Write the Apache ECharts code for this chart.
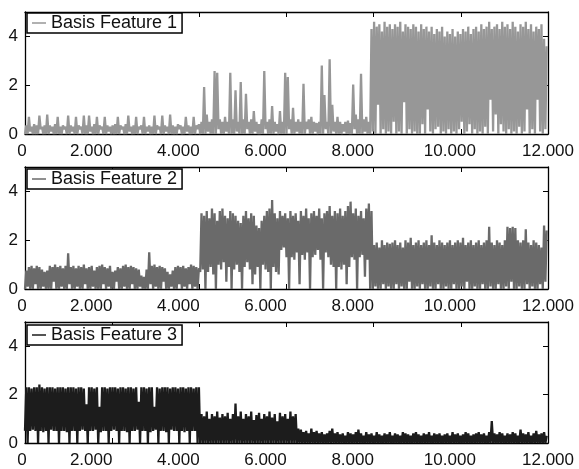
<!DOCTYPE html>
<html>
<head>
<meta charset="utf-8">
<script src="https://cdn.jsdelivr.net/npm/echarts@6/dist/echarts.min.js"></script>
<style>
  html, body { margin: 0; padding: 0; background: #fff; }
  #chart { width: 579px; height: 469px; }
</style>
</head>
<body>
<div id="chart"></div>
<script>
// each value = envelope of the signal in one 60-sample bin (lo = lowest, hi = highest)
var binSize = 60;
var xTickLabels = ['0', '2.000', '4.000', '6.000', '8.000', '10.000', '12.000'];
var seriesNames = ['Basis Feature 1', 'Basis Feature 2', 'Basis Feature 3'];

var f1Hi = [
  0.35,0.7,0.3,0.4,0.35,0.75,0.3,0.35,0.8,0.35,0.3,0.4,0.7,0.3,0.35,0.3,0.75,0.35,0.3,0.7,
  0.35,0.3,0.75,0.35,0.75,0.3,0.4,0.7,0.35,0.3,0.7,0.35,0.3,0.35,0.4,0.7,0.35,0.3,0.4,0.75,
  0.3,0.35,0.7,0.3,0.35,0.7,0.3,0.35,0.3,0.75,0.35,0.3,0.75,0.35,0.3,0.8,0.35,0.3,0.4,0.35,
  0.3,0.7,0.35,0.3,0.7,0.35,0.4,0.5,1.93,0.8,0.5,0.6,2.58,2.51,0.6,0.5,0.7,0.5,2.51,0.6,
  1.79,0.5,2.13,0.6,1.65,0.5,0.6,0.94,0.5,0.4,0.6,2.58,0.5,0.6,1.15,0.5,0.4,0.94,0.5,2.51,
  2.34,0.6,1.07,0.5,0.6,0.5,2.06,0.5,0.6,0.7,0.5,0.45,0.5,2.81,1.6,0.5,3.06,1.2,0.5,0.7,
  0.5,0.4,0.5,0.55,0.45,2.03,0.8,0.6,2.47,0.6,0.7,0.5,4.3,4.6,4.4,4.5,4.2,4.6,4.4,4.5,
  4.3,4.5,4.4,4.6,4.2,4.5,4.4,4.3,4.5,4.4,4.2,4.5,4.3,4.4,4.2,4.4,4.1,4.3,4.2,4.4,
  4.0,4.2,4.1,4.3,4.0,4.2,4.1,4.3,4.2,4.4,4.1,4.3,4.4,4.2,4.5,4.3,4.4,4.6,4.3,4.4,
  4.5,4.3,4.6,4.4,4.5,4.3,4.6,4.4,4.2,4.5,4.4,4.6,4.3,4.5,4.2,4.4,4.3,4.5,3.9,3.6
];
var f1Lo = [
  0,0,0.1,0,0,0,0.2,0,0,0,0.1,0,0,0,0,0.2,0,0,0.1,0,
  0,0.2,0,0,0,0.1,0,0,0,0.2,0,0,0.1,0,0,0,0,0.2,0,0,
  0.1,0,0,0,0.2,0,0,0.1,0,0,0,0.2,0,0,0.1,0,0,0,0,0.2,
  0,0,0.1,0,0,0,0.2,0,0,0,0.1,0,0,0,0.2,0,0,0.1,0,0,
  0,0.1,0,0,0,0.2,0,0,0.1,0,0,0,0.2,0,0,0,0.1,0,0,0,
  0,0.2,0,0,0.1,0,0,0,0.2,0,0,0.1,0,0,0,0.2,0,0,0.1,0,
  0,0,0.1,0,0,0,0.2,0,0,0,0.1,0,0,0.1,0,1.2,0,0.2,0,0.1,
  0,0.5,0,0.1,0,1.3,0,0.2,0,0.1,0,0,0.4,0,1.0,0.1,0,0.2,0.3,0,
  0.1,0,0.2,0,0.1,0,0.2,0.5,0,0.1,0.4,0,0.2,0,0.1,0,0.3,0,1.4,0.1,
  0.8,0,0.4,0.1,0,0.2,0,0.1,0,0.3,0,0.1,1.0,0,0.2,0,1.4,0.1,0,0.2
];

var f2Hi = [
  0.75,0.9,0.95,0.85,0.95,0.9,0.8,0.7,0.75,0.95,0.9,1.0,0.9,0.95,0.85,0.95,1.46,0.9,0.95,0.85,
  0.95,0.9,1.0,0.85,0.9,0.95,0.75,0.9,0.95,1.0,0.9,0.85,0.95,0.7,0.75,0.9,0.85,0.95,1.0,0.9,
  0.95,0.9,0.85,0.8,0.55,0.5,0.8,1.5,0.95,1.0,0.9,0.95,0.9,0.85,0.7,0.6,0.75,0.9,0.95,0.9,
  0.95,0.85,0.9,1.0,0.95,0.9,0.85,3.1,3.0,3.2,2.9,3.3,3.1,2.8,3.2,3.3,3.0,2.9,3.2,3.1,
  3.0,2.8,2.7,3.0,3.2,2.9,3.1,3.0,2.6,2.5,2.8,3.0,3.2,3.3,3.65,3.1,2.9,3.2,3.0,3.1,
  2.9,3.2,3.0,3.1,2.8,3.2,3.0,3.3,2.9,3.1,3.2,3.0,3.3,2.9,3.1,3.2,3.4,3.0,3.2,3.1,
  3.3,3.0,3.2,3.4,3.58,3.1,3.3,3.0,3.2,2.9,3.3,3.5,3.2,1.8,1.9,1.7,2.0,1.8,1.9,1.85,
  1.9,2.0,1.8,1.9,1.7,2.0,1.9,2.1,1.8,1.9,2.0,1.8,1.9,2.0,1.8,2.2,1.9,1.8,2.0,1.9,
  1.8,1.9,2.0,1.8,1.9,2.0,1.9,2.1,1.8,1.9,2.0,1.8,1.9,2.0,1.8,1.9,2.0,2.55,1.9,1.8,
  2.0,1.9,1.8,2.0,2.55,2.5,2.55,2.5,2.0,1.9,2.0,2.45,1.9,1.8,2.0,1.9,1.8,1.7,2.6,2.4
];
var f2Lo = [
  0,0.1,0,0,0.2,0,0,0.1,0,0,0,0.3,0,0,0.1,0,0,0.2,0,0,
  0.1,0,0,0.2,0,0,0.1,0,0,0,0.2,0,0.1,0,0,0.3,0,0,0.1,0,
  0,0.2,0,0,0.1,0,0,0,0.2,0,0.1,0,0,0.3,0,0,0.1,0,0,0.2,
  0,0.1,0,0.2,0,0.1,0,0.7,0.8,0,0.7,0.9,0.6,0,1.0,0.8,1.1,0.3,0.9,0,
  0.8,1.0,0.7,0,0.9,1.1,0.8,0.2,0.6,0.9,0,1.0,0.8,0.7,0,0.9,0.7,0.6,1.6,1.7,
  1.3,0,1.3,1.2,1.5,0.2,1.4,1.2,1.5,0,1.3,1.4,1.6,1.2,0,1.5,1.3,1.0,0.9,0,
  0.9,0.8,1.0,0.2,0.9,1.3,1.2,0,1.3,1.4,0.5,1.2,0,0,0.1,0,0,0.2,0,0.1,
  0,0,0.2,0,0.1,0,0,0.3,0,0,0.1,0,0.2,0,0,0.1,0,0,0.2,0,
  0,0.1,0,0,0.2,0,0,0.1,0,0.3,0,0,0.1,0,0,0.2,0,0,0.1,0,
  0,0.2,0,0,0.1,0,0.3,0,0,0.1,0,0,0.2,0,0.1,0,0,0.2,0,0.3
];

var f3Hi = [
  2.3,2.3,2.25,2.3,2.3,2.42,2.3,2.25,2.3,2.3,2.3,2.25,2.3,2.3,2.3,2.25,2.3,2.3,2.3,2.25,
  2.3,2.3,2.25,1.6,2.3,2.3,2.25,2.3,1.5,2.3,2.3,2.25,2.3,2.3,2.3,2.25,2.3,2.3,2.25,2.3,
  2.3,2.25,2.3,1.7,2.3,2.3,2.25,2.3,2.3,1.5,2.3,2.25,2.3,2.3,2.3,2.25,2.3,2.3,2.25,2.3,
  2.3,2.25,2.3,2.3,2.25,2.3,2.3,1.2,1.1,1.3,1.0,1.2,1.1,1.3,1.05,1.2,1.1,1.25,1.0,1.2,
  1.63,1.1,1.3,1.0,1.2,1.1,1.3,0.95,1.15,1.25,1.0,1.2,1.1,1.3,1.05,1.2,0.9,1.25,1.1,1.2,
  1.0,1.3,1.1,1.2,0.6,0.55,0.45,0.5,0.4,0.6,0.45,0.5,0.4,0.45,0.35,0.4,0.5,0.6,0.4,0.45,
  0.35,0.4,0.3,0.45,0.4,0.35,0.45,0.55,0.4,0.3,0.45,0.35,0.4,0.3,0.45,0.35,0.3,0.4,0.35,0.45,
  0.3,0.4,0.35,0.3,0.45,0.4,0.35,0.3,0.4,0.45,0.35,0.3,0.4,0.35,0.45,0.3,0.4,0.35,0.4,0.3,
  0.35,0.4,0.3,0.45,0.35,0.4,0.3,0.35,0.45,0.4,0.3,0.35,0.4,0.45,0.35,0.4,0.3,0.45,0.91,0.4,
  0.35,0.45,0.4,0.3,0.4,0.35,0.45,0.4,0.3,0.55,0.4,0.35,0.45,0.3,0.4,0.5,0.35,0.4,0.45,0.3
];
var f3Lo = [
  0.5,0,0.5,0.55,0.5,0,0.5,0.45,0.5,0,0.55,0.5,0.5,0,0.5,0.5,0.45,0,0.5,0.5,
  0,0.5,0.55,0.5,0,0.5,0.5,0.55,0,0.45,0.5,0.5,0,0.5,0.55,0.5,0,0.5,0.5,0.45,
  0,0.5,0.5,0.55,0,0.5,0.5,0,0.45,0.5,0.55,0,0.5,0.5,0.45,0,0.55,0.5,0.5,0,
  0.5,0.45,0.5,0,0.5,0.5,0,0,0,0,0,0,0,0,0,0,0,0,0,0,
  0,0,0,0,0,0,0,0,0,0,0,0,0,0,0,0,0,0,0,0,
  0,0,0,0,0,0,0,0,0,0,0,0,0,0,0,0,0,0,0,0,
  0,0,0,0,0,0,0,0,0,0,0,0,0,0,0,0,0,0,0,0,
  0,0,0,0,0,0,0,0,0,0,0,0,0,0,0,0,0,0,0,0,
  0,0,0,0,0,0,0,0,0,0,0,0,0,0,0,0,0,0,0,0,
  0,0,0,0,0,0,0,0,0,0,0,0,0,0,0,0,0,0,0,0
];

var lineColors = ['#979797', '#6a6a6a', '#1c1c1c'];
var panelTops = [12, 167, 322];
var legendTops = [13, 169, 325];

// trace the signal inside each bin: lowest point then highest point
function toPoints(lo, hi) {
    var pts = [];
    for (var i = 0; i < hi.length; i++) {
        pts.push([i * binSize, lo[i]]);
        pts.push([i * binSize + binSize / 2, hi[i]]);
    }
    return pts;
}

var font = "'Liberation Sans', Arial, sans-serif";
var ink = '#000';

var grids = [], xAxes = [], yAxes = [], legends = [], series = [];
var data = [[f1Lo, f1Hi], [f2Lo, f2Hi], [f3Lo, f3Hi]];

for (var g = 0; g < 3; g++) {
    grids.push({ left: 25, right: 31, top: panelTops[g], height: 122 });

    // bottom axis with labels, top axis only for the box and ticks
    xAxes.push({
        type: 'value', gridIndex: g, position: 'bottom',
        min: 0, max: 12000, interval: 2000,
        axisLine: { show: true, onZero: false, lineStyle: { color: ink, width: 1.3 } },
        axisTick: { show: true, inside: true, length: 5, lineStyle: { color: ink } },
        splitLine: { show: false },
        axisLabel: {
            margin: 9, color: '#111', fontSize: 17, fontFamily: font,
            formatter: function (value) {
                var k = Math.round(value / 2000);
                var s = k === 0 ? 'a' : (k < 5 ? 'b' : (k === 5 ? 'c' : 'd'));
                return '{' + s + '|' + xTickLabels[k] + '}';
            },
            rich: {
                a: { fontSize: 17, fontFamily: font, color: '#111', padding: [0, 6, 0, 0] },
                b: { fontSize: 17, fontFamily: font, color: '#111', padding: [0, 42, 0, 0] },
                c: { fontSize: 17, fontFamily: font, color: '#111', padding: [0, 22, 0, 0] },
                d: { fontSize: 17, fontFamily: font, color: '#111' }
            }
        }
    });
    xAxes.push({
        type: 'value', gridIndex: g, position: 'top',
        min: 0, max: 12000, interval: 2000,
        axisLine: { show: true, onZero: false, lineStyle: { color: ink, width: 1.3 } },
        axisTick: { show: true, inside: true, length: 5, lineStyle: { color: ink } },
        axisLabel: { show: false },
        splitLine: { show: false }
    });

    yAxes.push({
        type: 'value', gridIndex: g, position: 'left',
        min: 0, max: 5, interval: 2,
        axisLine: { show: true, onZero: false, lineStyle: { color: ink, width: 1.3 } },
        axisTick: { show: true, inside: true, length: 5, lineStyle: { color: ink } },
        splitLine: { show: false },
        axisLabel: {
            margin: 7, color: '#111', fontSize: 17, fontFamily: font,
            showMaxLabel: false,
            formatter: function (v) { return v % 2 === 0 ? String(v) : ''; }
        }
    });
    yAxes.push({
        type: 'value', gridIndex: g, position: 'right',
        min: 0, max: 5, interval: 2,
        axisLine: { show: true, onZero: false, lineStyle: { color: ink, width: 1.3 } },
        axisTick: { show: true, inside: true, length: 5, lineStyle: { color: ink } },
        axisLabel: { show: false },
        splitLine: { show: false }
    });

    legends.push({
        data: [{ name: seriesNames[g], icon: 'rect' }],
        left: 27, top: legendTops[g],
        orient: 'vertical',
        padding: [1, 5, 1, 5],
        itemWidth: 14, itemHeight: 1.5,
        backgroundColor: '#fff',
        borderColor: ink, borderWidth: 1.5,
        textStyle: { color: '#111', fontSize: 18, fontFamily: font },
        selectedMode: false
    });

    series.push({
        name: seriesNames[g],
        type: 'line',
        xAxisIndex: g * 2,
        yAxisIndex: g * 2,
        data: toPoints(data[g][0], data[g][1]),
        symbol: 'none',
        showSymbol: false,
        sampling: null,
        lineStyle: { color: lineColors[g], width: 2.3, join: 'bevel' },
        itemStyle: { color: lineColors[g] },
        z: 1
    });
}

var myChart = echarts.init(document.getElementById('chart'), null, { renderer: 'canvas' });
var option = {
    backgroundColor: '#fff',
    animation: false,
    textStyle: { fontFamily: font },
    grid: grids,
    xAxis: xAxes,
    yAxis: yAxes,
    legend: legends,
    series: series
};
myChart.setOption(option);
window.onresize = myChart.resize;
</script>
</body>
</html>
